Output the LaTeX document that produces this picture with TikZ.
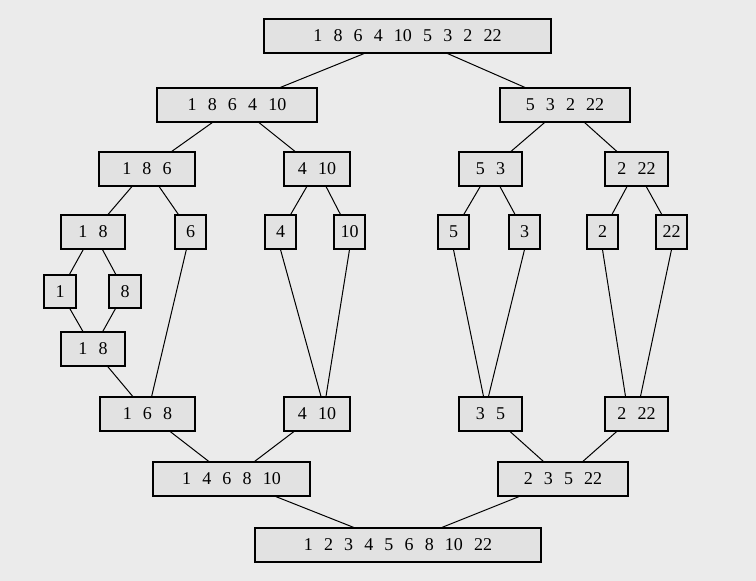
\documentclass[tikz,border=0pt]{standalone}
\usepackage{fontspec}
\setmainfont{Liberation Serif}
\newcommand{\gq}{\hspace{0.62em}}
\begin{document}
\begin{tikzpicture}[x=1pt,y=-1pt,
 bx/.style={draw,line width=1.2pt,fill=boxfill,minimum height=34pt,inner sep=0pt,font=\fontsize{18}{20}\selectfont,anchor=center},
 ln/.style={line width=1pt}]
\definecolor{bg}{HTML}{EBEBEB}
\definecolor{boxfill}{HTML}{E2E2E2}
\fill[bg] (0,0) rectangle (756,581);
\useasboundingbox (0,0) rectangle (756,581);
\node[bx,minimum width=287pt] (t) at (407.5,36) {1\gq 8\gq 6\gq 4\gq 10\gq 5\gq 3\gq 2\gq 22};
\node[bx,minimum width=160pt] (l1) at (237,105) {1\gq 8\gq 6\gq 4\gq 10};
\node[bx,minimum width=130pt] (r1) at (565,105) {5\gq 3\gq 2\gq 22};
\node[bx,minimum width=96pt] (l2a) at (147,169) {1\gq 8\gq 6};
\node[bx,minimum width=66pt] (l2b) at (317,169) {4\gq 10};
\node[bx,minimum width=63pt] (r2a) at (490.5,169) {5\gq 3};
\node[bx,minimum width=63pt] (r2b) at (636.5,169) {2\gq 22};
\node[bx,minimum width=64pt] (a18) at (93,232) {1\gq 8};
\node[bx,minimum width=31pt] (a6) at (190.5,232) {6};
\node[bx,minimum width=31pt] (a4) at (280.5,232) {4};
\node[bx,minimum width=31pt] (a10) at (349.5,232) {10};
\node[bx,minimum width=31pt] (a5) at (453.5,232) {5};
\node[bx,minimum width=31pt] (a3) at (524.5,232) {3};
\node[bx,minimum width=31pt] (a2) at (602.5,232) {2};
\node[bx,minimum width=31pt] (a22) at (671.5,232) {22};
\node[bx,minimum width=32pt,minimum height=33pt] (b1) at (60,291.5) {1};
\node[bx,minimum width=32pt,minimum height=33pt] (b8) at (125,291.5) {8};
\node[bx,minimum width=64pt] (c18) at (93,349) {1\gq 8};
\node[bx,minimum width=95pt] (d168) at (147.5,414) {1\gq 6\gq 8};
\node[bx,minimum width=66pt] (d410) at (317,414) {4\gq 10};
\node[bx,minimum width=63pt] (d35) at (490.5,414) {3\gq 5};
\node[bx,minimum width=63pt] (d222) at (636.5,414) {2\gq 22};
\node[bx,minimum width=157pt] (e1) at (231.5,479) {1\gq 4\gq 6\gq 8\gq 10};
\node[bx,minimum width=130pt] (e2) at (563,479) {2\gq 3\gq 5\gq 22};
\node[bx,minimum width=286pt] (f) at (398,545) {1\gq 2\gq 3\gq 4\gq 5\gq 6\gq 8\gq 10\gq 22};
\draw[ln] (t.south) ++(-45,0) coordinate (t1);
\draw[ln] (t) -- (l1); \draw[ln] (t) -- (r1);
\draw[ln] (l1) -- (l2a); \draw[ln] (l1) -- (l2b);
\draw[ln] (r1) -- (r2a); \draw[ln] (r1) -- (r2b);
\draw[ln] (l2a) -- (a18); \draw[ln] (l2a) -- (a6);
\draw[ln] (l2b) -- (a4); \draw[ln] (l2b) -- (a10);
\draw[ln] (r2a) -- (a5); \draw[ln] (r2a) -- (a3);
\draw[ln] (r2b) -- (a2); \draw[ln] (r2b) -- (a22);
\draw[ln] (a18) -- (b1); \draw[ln] (a18) -- (b8);
\draw[ln] (b1) -- (c18); \draw[ln] (b8) -- (c18);
\draw[ln] (c18) -- (d168); \draw[ln] (a6) -- (d168);
\draw[ln] (a4.south) -- ([xshift=4pt]d410.north); \draw[ln] (a10.south) -- ([xshift=9pt]d410.north);
\draw[ln] (a5.south) -- ([xshift=-7pt]d35.north); \draw[ln] (a3.south) -- ([xshift=-2pt]d35.north);
\draw[ln] (a2.south) -- ([xshift=-11pt]d222.north); \draw[ln] (a22.south) -- ([xshift=4pt]d222.north);
\draw[ln] (d168) -- (e1); \draw[ln] (d410) -- (e1);
\draw[ln] (d35) -- (e2); \draw[ln] (d222) -- (e2);
\draw[ln] (e1) -- (f); \draw[ln] (e2) -- (f);
\end{tikzpicture}
\end{document}
